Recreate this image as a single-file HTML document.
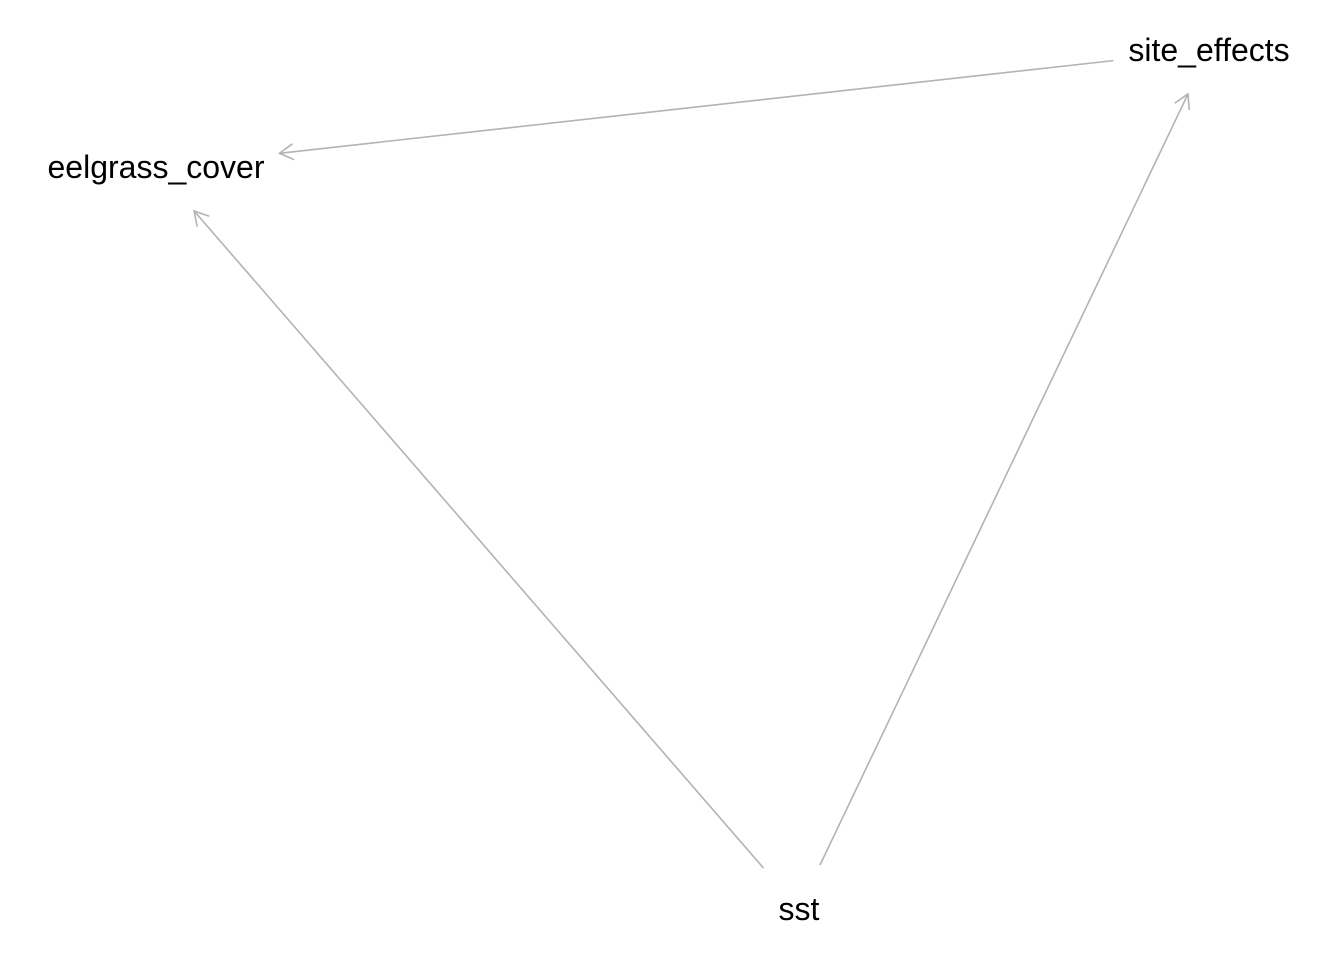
<!DOCTYPE html>
<html>
<head>
<meta charset="utf-8">
<style>
  html, body { margin: 0; padding: 0; background: #ffffff; }
  svg { display: block; }
  text { font-family: "Liberation Sans", Arial, sans-serif; font-size: 32px; fill: #000; }
</style>
</head>
<body>
<svg id="chart" width="1344" height="960" viewBox="0 0 1344 960">
  <rect width="1344" height="960" fill="#ffffff"></rect>
  <g id="edges"></g>
  <g id="nodes"></g>
</svg>
<script>
const nodeNames = ["site_effects", "eelgrass_cover", "sst"];
const nodeX = [1209, 156, 799];
const nodeY = [50, 167, 909];
const edgeFrom = ["site_effects", "sst", "sst"];
const edgeTo = ["eelgrass_cover", "eelgrass_cover", "site_effects"];

const NS = "http://www.w3.org/2000/svg";
const svg = document.getElementById("chart");
const gE = document.getElementById("edges");
const gN = document.getElementById("nodes");
const halfW = {};
const HALF_H = 44, PAD_X = 15;

nodeNames.forEach((n, i) => {
  const t = document.createElementNS(NS, "text");
  t.setAttribute("x", nodeX[i]);
  t.setAttribute("y", nodeY[i] + 11);
  t.setAttribute("text-anchor", "middle");
  t.textContent = n;
  
  
  gN.appendChild(t);
  halfW[n] = t.getComputedTextLength() / 2 + PAD_X;
});

function clipT(name, dx, dy) {
  const tx = Math.abs(dx) > 0 ? halfW[name] / Math.abs(dx) : Infinity;
  const ty = Math.abs(dy) > 0 ? HALF_H / Math.abs(dy) : Infinity;
  return Math.min(tx, ty);
}

edgeFrom.forEach((f, k) => {
  const to = edgeTo[k];
  const i = nodeNames.indexOf(f), j = nodeNames.indexOf(to);
  const dx = nodeX[j] - nodeX[i], dy = nodeY[j] - nodeY[i];
  const t0 = clipT(f, dx, dy), t1 = 1 - clipT(to, dx, dy);
  const x1 = nodeX[i] + dx * t0, y1 = nodeY[i] + dy * t0;
  const x2 = nodeX[i] + dx * t1, y2 = nodeY[i] + dy * t1;
  const line = document.createElementNS(NS, "line");
  line.setAttribute("x1", x1); line.setAttribute("y1", y1);
  line.setAttribute("x2", x2); line.setAttribute("y2", y2);
  line.setAttribute("stroke", "#b3b3b3");
  line.setAttribute("stroke-width", "1.6");
  
  
  gE.appendChild(line);
  // open arrowhead
  const ang = Math.atan2(y2 - y1, x2 - x1);
  const L = 16, a = Math.PI / 6;
  const p1x = x2 - L * Math.cos(ang - a), p1y = y2 - L * Math.sin(ang - a);
  const p2x = x2 - L * Math.cos(ang + a), p2y = y2 - L * Math.sin(ang + a);
  const head = document.createElementNS(NS, "polyline");
  head.setAttribute("points", p1x + "," + p1y + " " + x2 + "," + y2 + " " + p2x + "," + p2y);
  head.setAttribute("fill", "none");
  head.setAttribute("stroke", "#b3b3b3");
  head.setAttribute("stroke-width", "1.6");
  
  
  gE.appendChild(head);
});
</script>
</body>
</html>
